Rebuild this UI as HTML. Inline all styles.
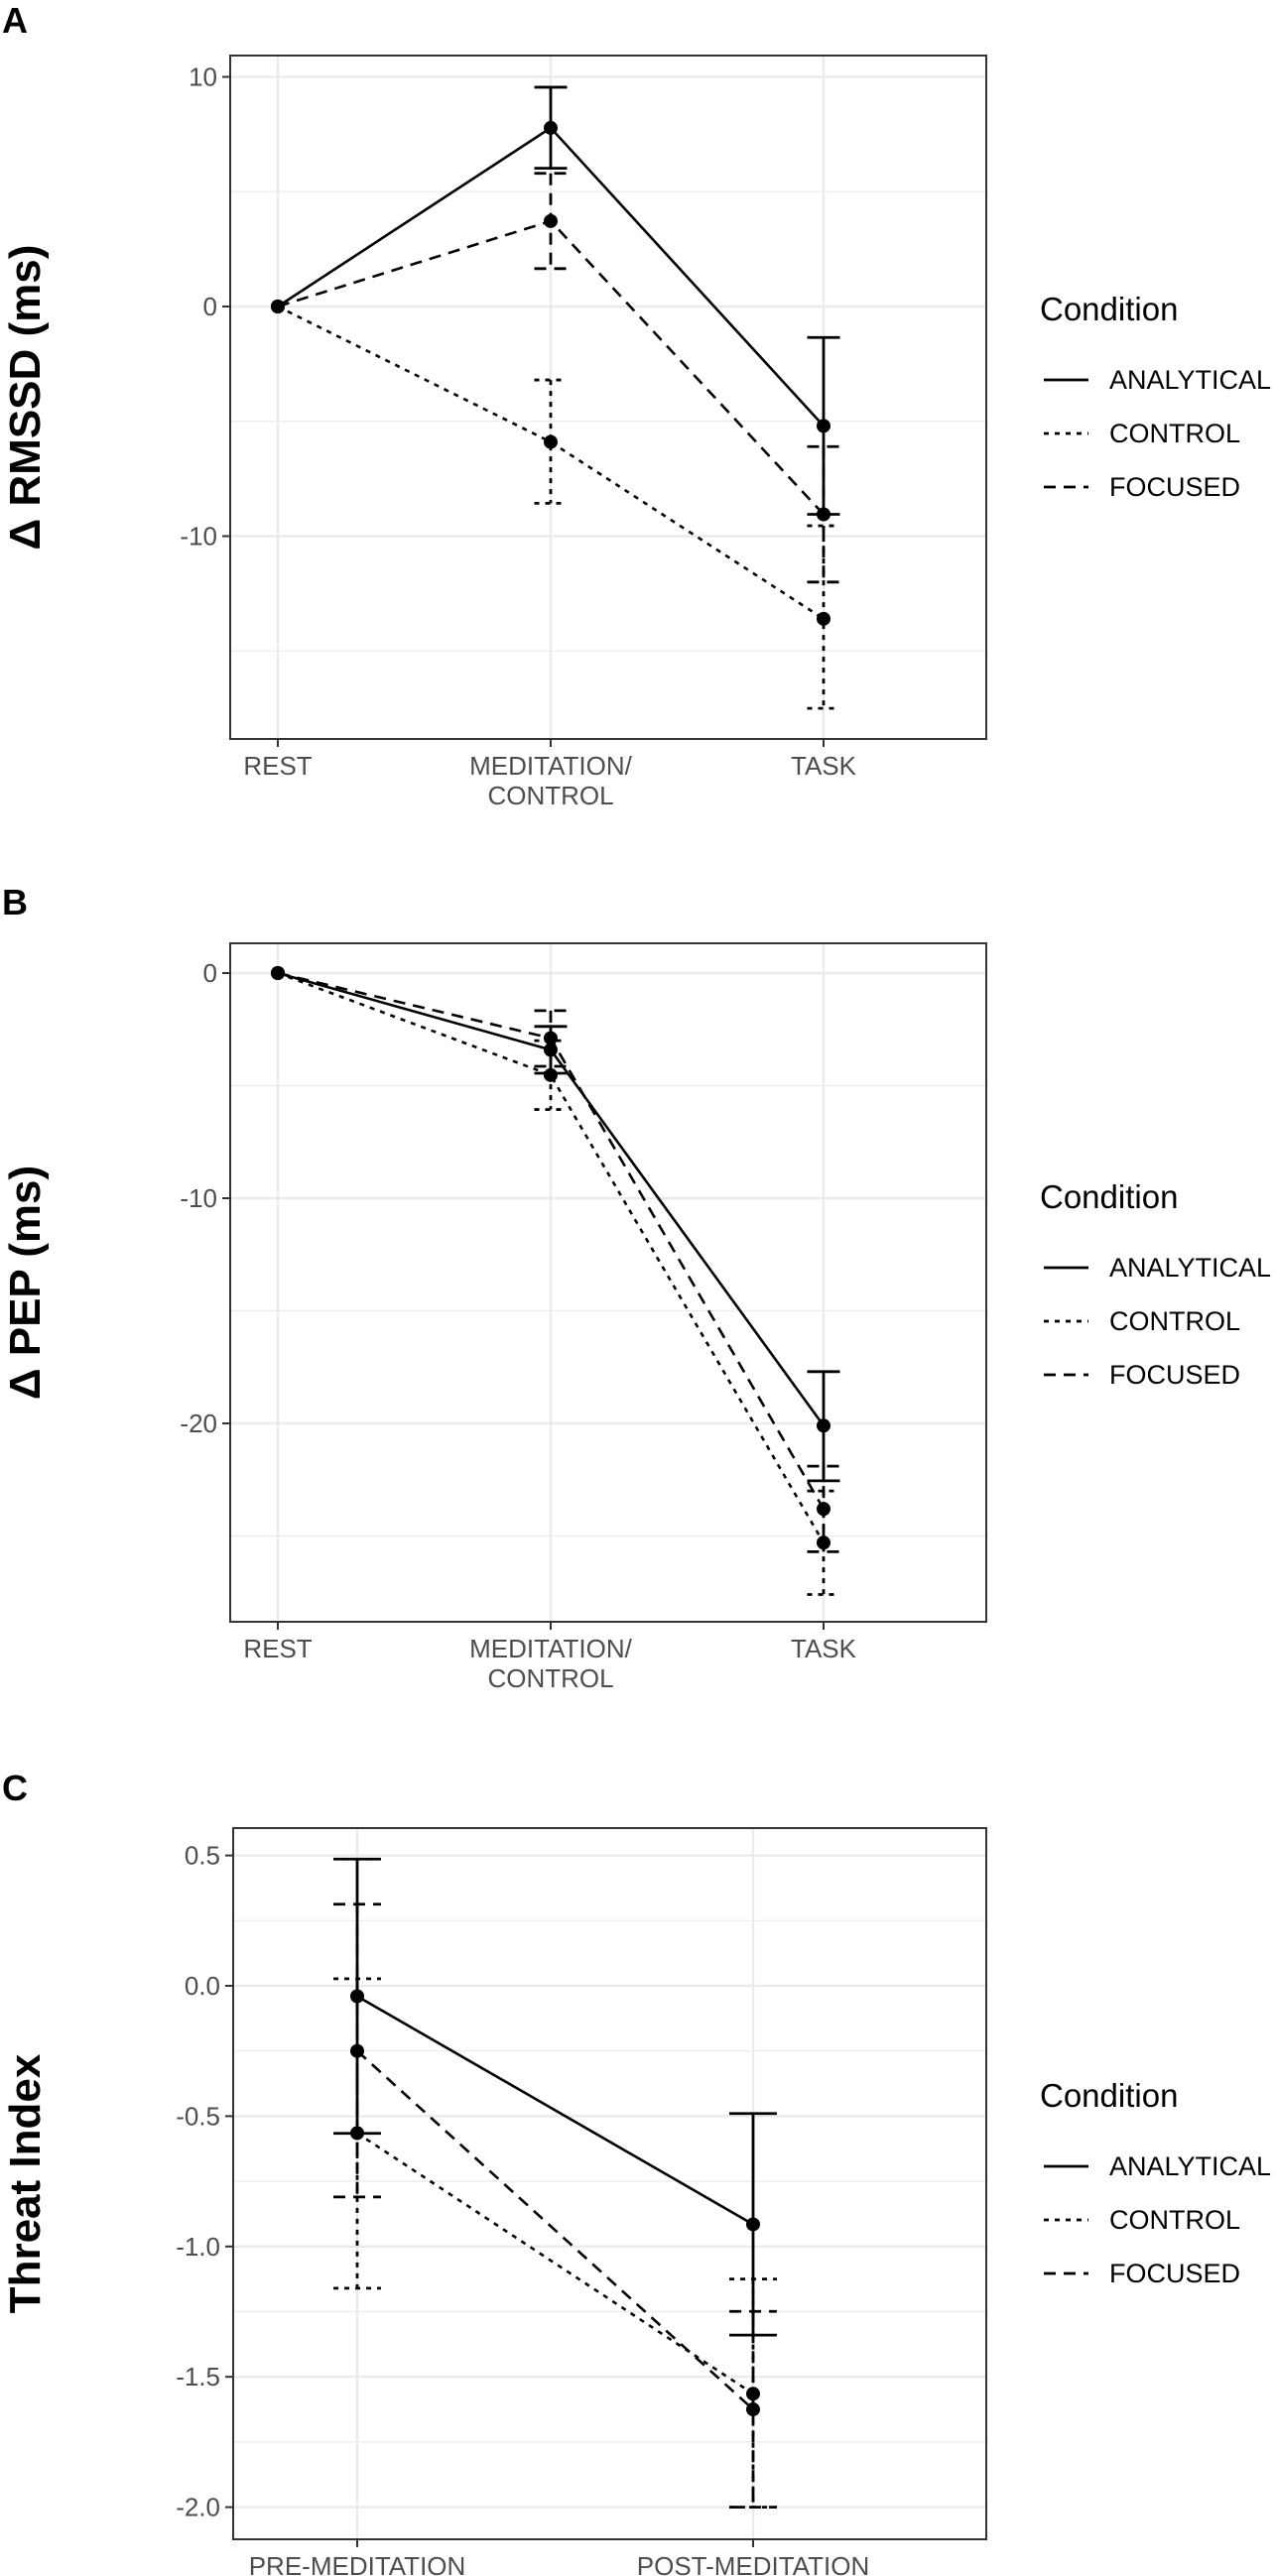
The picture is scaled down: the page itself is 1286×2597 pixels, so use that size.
<!DOCTYPE html>
<html><head><meta charset="utf-8">
<style>
html,body{margin:0;padding:0;background:#fff;}
svg{display:block;font-family:"Liberation Sans",Arial,sans-serif;}
</style></head>
<body>
<svg id="fig" width="1286" height="2597" viewBox="0 0 1286 2597" xmlns="http://www.w3.org/2000/svg"></svg>
<script>
// ---------- Panel A data (Δ RMSSD) ----------
const catsA = ["REST", "MEDITATION/\nCONTROL", "TASK"];
const anaA = [0, 7.78, -5.2];
const anaA_lo = [0, 6.02, -9.05];
const anaA_hi = [0, 9.55, -1.35];
const conA = [0, -5.9, -13.6];
const conA_lo = [0, -8.57, -17.5];
const conA_hi = [0, -3.2, -9.55];
const focA = [0, 3.72, -9.05];
const focA_lo = [0, 1.65, -12.0];
const focA_hi = [0, 5.8, -6.1];
const ticksA = [10, 0, -10];
const ticksA_minor = [5, -5, -15];

// ---------- Panel B data (Δ PEP) ----------
const catsB = ["REST", "MEDITATION/\nCONTROL", "TASK"];
const anaB = [0, -3.41, -20.1];
const anaB_lo = [0, -4.45, -22.55];
const anaB_hi = [0, -2.37, -17.7];
const conB = [0, -4.53, -25.3];
const conB_lo = [0, -6.06, -27.6];
const conB_hi = [0, -3.0, -23.0];
const focB = [0, -2.89, -23.8];
const focB_lo = [0, -4.14, -25.7];
const focB_hi = [0, -1.67, -21.9];
const ticksB = [0, -10, -20];
const ticksB_minor = [-5, -15, -25];

// ---------- Panel C data (Threat Index) ----------
const catsC = ["PRE-MEDITATION", "POST-MEDITATION"];
const anaC = [-0.04, -0.915];
const anaC_lo = [-0.566, -1.34];
const anaC_hi = [0.486, -0.49];
const conC = [-0.565, -1.565];
const conC_lo = [-1.16, -2.0];
const conC_hi = [0.027, -1.125];
const focC = [-0.25, -1.625];
const focC_lo = [-0.81, -2.0];
const focC_hi = [0.313, -1.249];
const ticksC = [0.5, 0.0, -0.5, -1.0, -1.5, -2.0];
const ticksC_minor = [0.25, -0.25, -0.75, -1.25, -1.75];

const legendLabels = ["ANALYTICAL", "CONTROL", "FOCUSED"];

const NS = "http://www.w3.org/2000/svg";
const svg = document.getElementById("fig");
function mk(tag, attrs, parent) {
  const e = document.createElementNS(NS, tag);
  for (const k in attrs) e.setAttribute(k, attrs[k]);
  (parent || svg).appendChild(e);
  return e;
}
const DASH = {solid: null, dotted: "5,6", dashed: "12,8"};

function panel(cfg) {
  const g = mk("g", {});
  
  
  const L = cfg.left, R = cfg.right, T = cfg.top, B = cfg.bottom;
  const n = cfg.cats.length;
  const step = (cfg.xLast - cfg.xFirst) / (n - 1);
  const xs = i => cfg.xFirst + i * step;
  const ys = v => cfg.y0 - (v - cfg.v0) * cfg.ppu;

  const lt = mk("text", {x: 2, y: cfg.letterY, "font-size": 36, "font-weight": "bold", fill: "#000"}, g);
  lt.textContent = cfg.letter;
  
  

  cfg.minor.forEach(v => {
    const l = mk("line", {x1: L, x2: R, y1: ys(v), y2: ys(v), stroke: "#ebebeb", "stroke-width": 1.2}, g);
    
    
  });
  cfg.ticks.forEach(v => {
    const l = mk("line", {x1: L, x2: R, y1: ys(v), y2: ys(v), stroke: "#ebebeb", "stroke-width": 2.4}, g);
    
    
  });
  cfg.cats.forEach((c, i) => {
    const l = mk("line", {x1: xs(i), x2: xs(i), y1: T, y2: B, stroke: "#ebebeb", "stroke-width": 2.4}, g);
    
    
  });

  cfg.ticks.forEach(v => {
    const tk = mk("line", {x1: L - 8, x2: L, y1: ys(v), y2: ys(v), stroke: "#333", "stroke-width": 2}, g);
    
    
    const t = mk("text", {x: L - 13, y: ys(v) + 9, "font-size": 26, fill: "#4d4d4d", "text-anchor": "end"}, g);
    t.textContent = cfg.fmt(v);
    
    
  });
  cfg.cats.forEach((c, i) => {
    const tk = mk("line", {x1: xs(i), x2: xs(i), y1: B, y2: B + 8, stroke: "#333", "stroke-width": 2}, g);
    
    
    c.split("\n").forEach((ln, k) => {
      const t = mk("text", {x: xs(i), y: B + 36 + k * 30, "font-size": 26, fill: "#4d4d4d", "text-anchor": "middle"}, g);
      t.textContent = ln;
      
      
    });
  });

  const yt = mk("text", {x: 0, y: 0, "font-size": 44, "font-weight": "bold", fill: "#000", "text-anchor": "middle",
    transform: `translate(40,${(T + B) / 2}) rotate(-90)`}, g);
  yt.textContent = cfg.ytitle;
  
  

  const ew = step * 0.06;
  cfg.series.forEach(s => {
    const dash = DASH[s.style];
    s.v.forEach((v, i) => {
      if (s.lo[i] === s.hi[i]) return;
      const x = xs(i);
      const common = {stroke: "#000", "stroke-width": 2.8, fill: "none"};
      if (dash) common["stroke-dasharray"] = dash;
      const eb = mk("path", Object.assign({d: `M${x - ew},${ys(s.hi[i])}H${x + ew}M${x},${ys(s.hi[i])}V${ys(s.lo[i])}M${x - ew},${ys(s.lo[i])}H${x + ew}`}, common), g);
      
      
    });
    const pts = s.v.map((v, i) => `${xs(i)},${ys(v)}`).join(" ");
    const la = {points: pts, stroke: "#000", "stroke-width": 2.6, fill: "none"};
    if (dash) la["stroke-dasharray"] = dash;
    const pl = mk("polyline", la, g);
    
    
    s.v.forEach((v, i) => {
      const c = mk("circle", {cx: xs(i), cy: ys(v), r: 7, fill: "#000"}, g);
      
      
    });
  });

  const bd = mk("rect", {x: L, y: T, width: R - L, height: B - T, fill: "none", stroke: "#333", "stroke-width": 2}, g);
  
  

  const lg = mk("g", {}, g);
  
  
  const ttl = mk("text", {x: 1048, y: cfg.legY, "font-size": 33, fill: "#000"}, lg);
  ttl.textContent = "Condition";
  
  
  ["solid", "dotted", "dashed"].forEach((st, k) => {
    const yy = cfg.legY + 60 + k * 54;
    const la = {x1: 1052, x2: 1097, y1: yy, y2: yy, stroke: "#000", "stroke-width": 2.8};
    if (DASH[st]) la["stroke-dasharray"] = DASH[st];
    const key = mk("line", la, lg);
    
    
    const t = mk("text", {x: 1118, y: yy + 9, "font-size": 27, fill: "#000"}, lg);
    t.textContent = legendLabels[k];
    
    
  });
}

panel({name: "panel-a-rmssd", letter: "A", letterY: 33, left: 232, right: 994, top: 56, bottom: 745,
  xFirst: 280, xLast: 830,
  y0: 309, v0: 0, ppu: 23.15, ticks: ticksA, minor: ticksA_minor, fmt: v => String(v),
  cats: catsA, ytitle: "Δ RMSSD (ms)", legY: 323,
  series: [
    {key: "analytical", style: "solid", v: anaA, lo: anaA_lo, hi: anaA_hi},
    {key: "control", style: "dotted", v: conA, lo: conA_lo, hi: conA_hi},
    {key: "focused", style: "dashed", v: focA, lo: focA_lo, hi: focA_hi}]});

panel({name: "panel-b-pep", letter: "B", letterY: 922, left: 232, right: 994, top: 951, bottom: 1635,
  xFirst: 280, xLast: 830,
  y0: 981, v0: 0, ppu: 22.7, ticks: ticksB, minor: ticksB_minor, fmt: v => String(v),
  cats: catsB, ytitle: "Δ PEP (ms)", legY: 1218,
  series: [
    {key: "analytical", style: "solid", v: anaB, lo: anaB_lo, hi: anaB_hi},
    {key: "control", style: "dotted", v: conB, lo: conB_lo, hi: conB_hi},
    {key: "focused", style: "dashed", v: focB, lo: focB_lo, hi: focB_hi}]});

panel({name: "panel-c-threat", letter: "C", letterY: 1815, left: 235, right: 994, top: 1843, bottom: 2560,
  xFirst: 360, xLast: 759,
  y0: 2002, v0: 0, ppu: 262.8, ticks: ticksC, minor: ticksC_minor, fmt: v => v.toFixed(1),
  cats: catsC, ytitle: "Threat Index", legY: 2124,
  series: [
    {key: "analytical", style: "solid", v: anaC, lo: anaC_lo, hi: anaC_hi},
    {key: "control", style: "dotted", v: conC, lo: conC_lo, hi: conC_hi},
    {key: "focused", style: "dashed", v: focC, lo: focC_lo, hi: focC_hi}]});
</script>
</body></html>
